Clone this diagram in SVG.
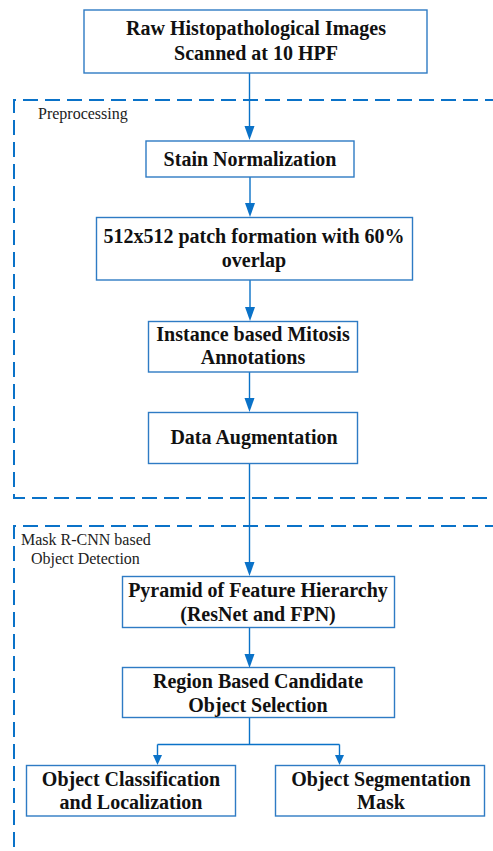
<svg xmlns="http://www.w3.org/2000/svg" width="493" height="851" viewBox="0 0 493 851">
  <style>
    .box { fill: #ffffff; stroke: #2E7BC4; stroke-width: 1.4; }
    .t { font-family: "Liberation Serif", "Times New Roman", serif; font-weight: bold; font-size: 20px; fill: #111; text-anchor: middle; }
    .lbl { font-family: "Liberation Serif", "Times New Roman", serif; font-size: 16px; fill: #222; }
    .group { fill: none; stroke: #0A72C8; stroke-width: 2; stroke-dasharray: 15 7; }
    .edge { fill: none; stroke: #0A72C8; stroke-width: 1.4; }
    .head { fill: #0A72C8; }
  </style>

  <rect width="493" height="851" fill="#ffffff"/>

  <!-- dashed group frames -->
  <g id="group-preprocessing">
    <path class="group" d="M500,100 L14,100 L14,498 L500,498"/>
    <text class="lbl" x="38" y="119">Preprocessing</text>
  </g>
  <g id="group-detection">
    <path class="group" d="M500,526 L14,526 L14,860"/>
    <text class="lbl" x="21" y="545">Mask R-CNN based</text>
    <text class="lbl" x="31" y="564">Object Detection</text>
  </g>

  <!-- connectors: shafts with triangular heads -->
  <g id="connectors">
    <path class="edge" d="M249.5,73 L249.5,126"/>
    <path class="head" d="M244.5,126 L254.5,126 L249.5,140 Z"/>
    <path class="edge" d="M250,177 L250,203"/>
    <path class="head" d="M245,203 L255,203 L250,217 Z"/>
    <path class="edge" d="M250,280 L250,307"/>
    <path class="head" d="M245,307 L255,307 L250,321 Z"/>
    <path class="edge" d="M249.5,372 L249.5,398"/>
    <path class="head" d="M244.5,398 L254.5,398 L249.5,412 Z"/>
    <path class="edge" d="M249.5,463 L249.5,562"/>
    <path class="head" d="M244.5,562 L254.5,562 L249.5,576 Z"/>
    <path class="edge" d="M249.5,627 L249.5,654"/>
    <path class="head" d="M244.5,654 L254.5,654 L249.5,668 Z"/>
    <path class="edge" d="M249.5,718 L249.5,744.5 M157.5,744.5 L339.5,744.5 M157.5,744.5 L157.5,755 M339.5,744.5 L339.5,755"/>
    <path class="head" d="M153,755 L162,755 L157.5,765 Z"/>
    <path class="head" d="M335,755 L344,755 L339.5,765 Z"/>
  </g>

  <!-- nodes -->
  <g id="raw-images">
    <rect class="box" x="84" y="10" width="343" height="63"/>
    <text class="t" x="256" y="35">Raw Histopathological Images</text>
    <text class="t" x="256" y="60">Scanned at 10 HPF</text>
  </g>
  <g id="stain-normalization">
    <rect class="box" x="146" y="141" width="208" height="36"/>
    <text class="t" x="250" y="166">Stain Normalization</text>
  </g>
  <g id="patch-formation">
    <rect class="box" x="96.5" y="217.5" width="316" height="62.5"/>
    <text class="t" x="254" y="243">512x512 patch formation with 60%</text>
    <text class="t" x="254" y="267">overlap</text>
  </g>
  <g id="mitosis-annotations">
    <rect class="box" x="148.5" y="321.5" width="209" height="50.5"/>
    <text class="t" x="253" y="341">Instance based Mitosis</text>
    <text class="t" x="253" y="364">Annotations</text>
  </g>
  <g id="data-augmentation">
    <rect class="box" x="148.5" y="412.5" width="209" height="51"/>
    <text class="t" x="254" y="444">Data Augmentation</text>
  </g>
  <g id="feature-pyramid">
    <rect class="box" x="122.5" y="576.5" width="272" height="51"/>
    <text class="t" x="258" y="597">Pyramid of Feature Hierarchy</text>
    <text class="t" x="258" y="621">(ResNet and FPN)</text>
  </g>
  <g id="candidate-selection">
    <rect class="box" x="122.5" y="667.5" width="272" height="50"/>
    <text class="t" x="258" y="688">Region Based Candidate</text>
    <text class="t" x="258" y="712">Object Selection</text>
  </g>
  <g id="classification">
    <rect class="box" x="26.5" y="765.5" width="209" height="50.5"/>
    <text class="t" x="131" y="786">Object Classification</text>
    <text class="t" x="131" y="809">and Localization</text>
  </g>
  <g id="segmentation">
    <rect class="box" x="275.5" y="765.5" width="209" height="50.5"/>
    <text class="t" x="381" y="786">Object Segmentation</text>
    <text class="t" x="381" y="809">Mask</text>
  </g>
</svg>
